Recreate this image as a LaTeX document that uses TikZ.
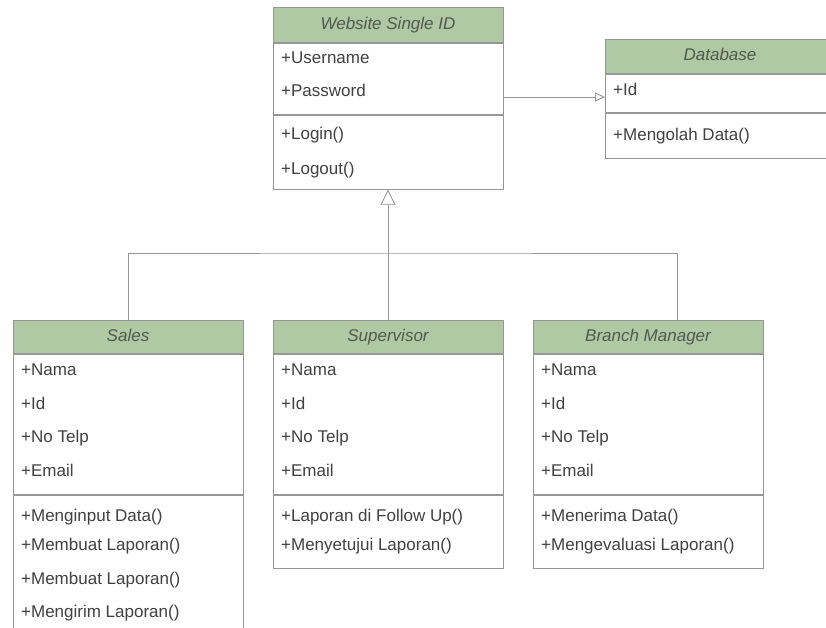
\documentclass[tikz,border=0pt]{standalone}
\usepackage{fontspec}
\setmainfont{Liberation Sans}
\usetikzlibrary{arrows.meta}
\definecolor{headfill}{RGB}{176,200,163}
\definecolor{linegray}{RGB}{150,150,150}
\definecolor{textgray}{RGB}{65,65,65}
\definecolor{headtext}{RGB}{80,90,80}
\tikzset{
  head/.style={draw=linegray, fill=headfill, minimum width=230, text=headtext,
    font=\fontsize{17}{20}\selectfont\itshape, anchor=north, line width=0.9pt,
    text height=12.5pt, text depth=3.5pt},
  part/.style={draw=linegray, fill=white, minimum width=230, anchor=north, line width=0.9pt},
  item/.style={anchor=west, inner sep=0pt, text=textgray, font=\fontsize{17}{20}\selectfont,
    text height=12.5pt, text depth=3.5pt},
  conn/.style={draw=linegray, line width=0.9pt},
  gen/.style={conn, -{Triangle[open, length=15pt, width=15pt]}},
  gensmall/.style={conn, -{Triangle[open, length=10pt, width=9pt]}}
}
\begin{document}
\begin{tikzpicture}[x=1pt, y=-1pt]
  \useasboundingbox (0,0) rectangle (826,628);
  \clip (0,0) rectangle (826,628);
  \fill[white] (0,0) rectangle (826,628);
  % Website Single ID
  \node[head, minimum height=35] (web) at (388,7) {Website Single ID};
  \node[part, minimum height=71] (webattr) at (web.south) {};
  \node[part, minimum height=74] (webop) at (webattr.south) {};
  \node[item] (w1) at (281,59) {+Username};
  \node[item] (w2) at (281,92) {+Password};
  \node[item] (w3) at (281,135) {+Login()};
  \node[item] (w4) at (281,170) {+Logout()};
  % Database
  \node[head, minimum height=34] (db) at (720,39) {Database};
  \node[part, minimum height=38] (dbattr) at (db.south) {};
  \node[part, minimum height=45] (dbop) at (dbattr.south) {};
  \node[item] (d1) at (613,91) {+Id};
  \node[item] (d2) at (613,136) {+Mengolah Data()};
  % Sales
  \node[head, minimum height=33] (sales) at (128,320) {Sales};
  \node[part, minimum height=140] (salesattr) at (sales.south) {};
  \node[part, minimum height=150] (salesop) at (salesattr.south) {};
  \node[item] (s1) at (21,371) {+Nama};
  \node[item] (s2) at (21,405) {+Id};
  \node[item] (s3) at (21,438) {+No Telp};
  \node[item] (s4) at (21,472) {+Email};
  \node[item] (s5) at (21,517) {+Menginput Data()};
  \node[item] (s6) at (21,546) {+Membuat Laporan()};
  \node[item] (s7) at (21,580) {+Membuat Laporan()};
  \node[item] (s8) at (21,613) {+Mengirim Laporan()};
  % Supervisor
  \node[head, minimum height=33] (sup) at (388,320) {Supervisor};
  \node[part, minimum height=140] (supattr) at (sup.south) {};
  \node[part, minimum height=73] (supop) at (supattr.south) {};
  \node[item] (p1) at (281,371) {+Nama};
  \node[item] (p2) at (281,405) {+Id};
  \node[item] (p3) at (281,438) {+No Telp};
  \node[item] (p4) at (281,472) {+Email};
  \node[item] (p5) at (281,517) {+Laporan di Follow Up()};
  \node[item] (p6) at (281,546) {+Menyetujui Laporan()};
  % Branch Manager
  \node[head, minimum height=33] (bm) at (648,320) {Branch Manager};
  \node[part, minimum height=140] (bmattr) at (bm.south) {};
  \node[part, minimum height=73] (bmop) at (bmattr.south) {};
  \node[item] (b1) at (541,371) {+Nama};
  \node[item] (b2) at (541,405) {+Id};
  \node[item] (b3) at (541,438) {+No Telp};
  \node[item] (b4) at (541,472) {+Email};
  \node[item] (b5) at (541,517) {+Menerima Data()};
  \node[item] (b6) at (541,546) {+Mengevaluasi Laporan()};
  % connectors
  \coordinate (join) at (388,253);
  \coordinate (dbin) at (605,97);
  \draw[gen] (sup.north) -- (webop.south);
  \draw[conn] (sales.north) |- (join) -| ([xshift=29]bm.north);
  \draw[gensmall] (dbin -| webattr.east) -- (dbin);
\end{tikzpicture}
\end{document}
